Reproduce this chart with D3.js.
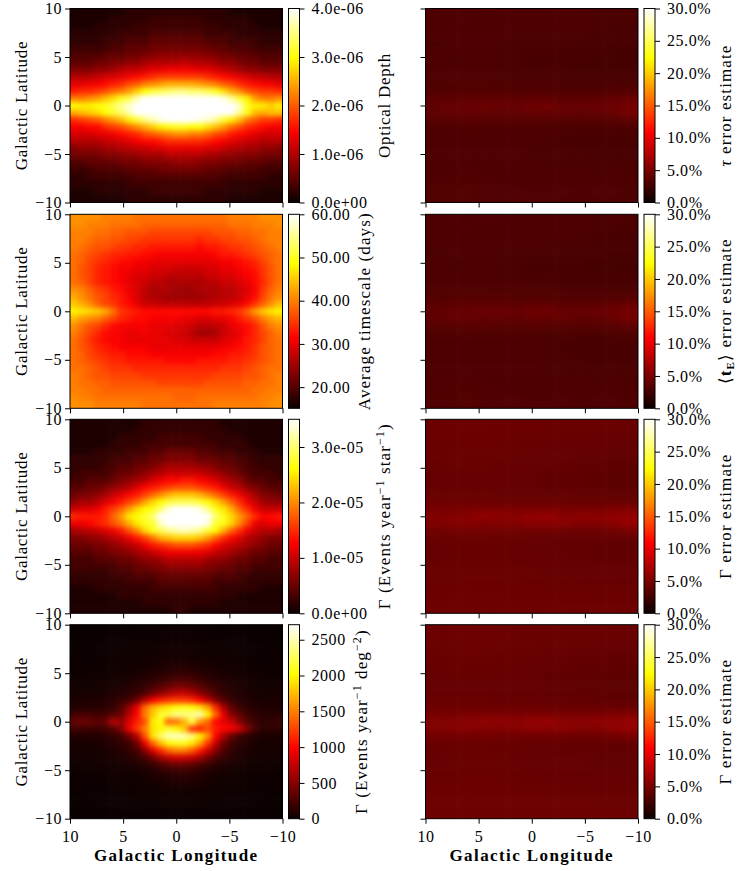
<!DOCTYPE html>
<html>
<head>
<meta charset="utf-8">
<script src="https://cdn.jsdelivr.net/npm/d3@7"></script>
<style>
  html, body { margin: 0; padding: 0; background: #fff; }
  text { font-family: "Liberation Serif", serif; fill: #000; }
  .tick text { font-size: 16px; letter-spacing: 0.55px; }
  .lab { font-size: 17px; letter-spacing: 0.7px; }
  .lab.wide { letter-spacing: 1.1px; }
  .blab { font-size: 17px; font-weight: bold; letter-spacing: 1.4px; }
</style>
</head>
<body>
<div id="chart"></div>
<script>
// values, rows run from b=+10 down to b=-10, columns from l=+10 to l=-10

// optical depth, units of 1e-7
const opticalDepth = [
[1,1,1,1,1,1,1,2,2,2,2,2,2,2,2,2,2,2,2,2,1,1,1,1,1,1,1],
[1,1,1,1,1,2,2,2,2,2,3,3,3,3,3,3,3,2,2,2,2,2,2,1,1,1,1],
[1,1,1,2,2,2,2,2,3,3,3,3,3,3,3,3,3,3,3,2,2,2,2,2,1,1,1],
[2,2,2,2,2,2,3,3,3,3,4,4,4,4,4,4,4,3,3,3,3,2,2,2,2,2,2],
[2,2,2,2,3,3,3,4,4,4,5,5,5,5,5,5,5,4,4,4,3,3,3,3,2,2,2],
[3,3,3,3,3,4,4,5,5,5,6,6,6,6,6,6,6,6,5,5,4,4,4,3,3,3,3],
[4,4,4,4,5,5,5,6,6,7,7,8,8,8,8,8,8,7,7,6,6,5,5,5,4,4,4],
[5,5,5,6,6,7,7,8,8,9,10,10,10,10,11,10,10,10,9,8,8,7,6,6,5,5,5],
[7,7,7,8,8,9,10,11,11,12,13,13,14,14,14,14,13,13,12,11,10,9,8,8,7,7,7],
[10,10,10,11,12,12,13,14,15,16,17,18,18,18,18,18,18,17,16,15,14,13,12,11,11,10,10],
[13,13,14,14,15,16,17,19,20,22,23,24,25,25,25,25,24,23,22,20,19,17,16,15,14,14,13],
[16,17,17,18,19,21,22,24,27,30,32,33,34,35,35,34,34,33,31,28,25,23,20,19,18,18,17],
[22,22,23,24,26,28,31,33,37,40,42,44,45,46,46,46,45,44,42,39,36,32,29,24,22,22,23],
[30,29,29,30,31,33,36,38,42,46,50,54,56,57,57,57,56,54,50,46,42,38,31,29,29,27,29],
[25,26,27,28,30,32,34,37,40,44,47,50,51,52,52,52,51,49,46,43,40,36,31,26,25,26,26],
[17,18,19,20,22,24,26,29,32,35,37,39,40,40,40,40,39,38,36,32,29,26,22,20,18,18,17],
[14,14,15,15,17,18,19,21,23,25,27,29,30,31,31,30,30,28,26,24,21,19,17,16,15,14,14],
[12,12,12,13,13,14,15,16,17,19,20,21,22,23,23,22,22,21,19,18,16,15,14,13,12,12,12],
[10,10,10,10,11,11,12,13,14,15,15,16,17,17,17,17,17,16,15,14,13,12,11,11,10,10,10],
[7,8,8,8,9,9,10,10,11,11,12,12,13,13,13,13,13,12,12,11,10,10,9,9,8,8,7],
[6,6,6,6,7,7,7,8,8,9,9,9,10,10,10,10,10,9,9,8,8,7,7,7,6,6,6],
[4,4,5,5,5,5,6,6,6,7,7,7,7,8,8,8,7,7,7,6,6,6,5,5,5,4,4],
[3,3,3,4,4,4,4,5,5,5,5,6,6,6,6,6,6,5,5,5,4,4,4,4,3,3,3],
[2,2,3,3,3,3,3,3,4,4,4,4,4,4,4,4,4,4,4,3,3,3,3,3,3,2,2],
[2,2,2,2,2,2,2,3,3,3,3,3,3,3,3,3,3,3,3,3,2,2,2,2,2,2,2],
[1,1,1,2,2,2,2,2,2,2,3,3,3,3,3,3,3,2,2,2,2,2,2,2,1,1,1],
[1,1,1,1,1,1,1,2,2,2,2,2,2,2,2,2,2,2,2,2,1,1,1,1,1,1,1]
];

// average timescale, days
const timescale = [
[41,41,41,41,40,40,40,40,39,39,39,39,39,39,39,39,39,39,39,39,40,40,40,40,41,41,41],
[41,41,40,40,40,39,39,39,39,38,38,38,38,38,38,38,38,38,38,38,39,39,39,40,40,40,41],
[40,40,40,39,39,38,38,37,37,37,36,36,36,36,36,36,36,36,37,37,37,38,38,39,39,40,40],
[40,40,39,38,38,37,37,36,36,35,35,35,35,35,35,35,34,35,35,36,36,37,37,38,39,40,40],
[40,39,38,37,37,36,35,35,34,34,33,33,33,33,33,33,32,33,33,34,35,35,36,37,38,39,40],
[39,38,37,36,35,34,34,33,33,32,32,31,31,31,31,31,31,31,32,33,33,34,35,36,37,38,39],
[39,38,36,35,34,33,32,32,31,31,30,30,30,30,30,30,30,30,30,31,31,32,33,34,36,38,39],
[39,37,36,34,33,32,31,31,30,30,29,29,29,28,28,28,28,29,29,30,30,31,32,33,35,37,39],
[39,37,36,34,33,32,31,30,29,29,28,28,27,27,27,27,27,28,28,29,29,30,31,32,35,37,39],
[39,38,36,34,33,32,31,30,29,28,27,27,26,26,26,26,26,27,27,28,28,29,30,32,34,37,39],
[41,40,38,36,35,33,32,30,29,27,26,26,26,25,25,25,26,26,26,27,27,28,29,31,35,38,40],
[43,41,39,37,36,34,33,31,29,27,26,26,25,25,25,25,25,26,26,27,27,28,30,32,36,39,41],
[45,43,41,38,36,35,33,32,30,28,28,27,27,27,27,27,27,27,28,28,29,30,32,35,38,41,44],
[48,47,46,45,43,39,35,34,33,32,32,32,32,32,32,32,32,32,33,33,34,35,38,42,45,47,48],
[44,42,41,40,38,36,34,33,32,32,31,31,31,31,30,30,29,29,30,30,31,33,35,37,40,42,44],
[41,39,37,36,34,32,31,31,31,31,30,30,30,29,29,28,27,27,27,28,30,31,32,34,37,40,41],
[40,38,36,34,32,31,31,30,30,31,30,30,29,29,28,27,25,25,26,28,29,30,32,34,36,38,40],
[39,37,35,33,32,31,31,30,30,30,30,30,30,29,29,28,28,28,28,29,30,31,33,34,36,38,39],
[39,37,36,34,33,32,31,31,31,31,30,30,30,30,30,30,30,30,30,31,31,32,33,35,37,38,39],
[39,38,36,35,34,33,33,32,32,32,31,31,31,31,31,31,31,31,32,32,33,33,34,35,37,38,39],
[39,38,37,36,35,34,34,33,33,33,33,33,32,32,32,32,33,33,33,33,34,34,35,36,37,38,39],
[39,39,38,37,36,35,35,35,34,34,34,34,34,34,34,34,34,34,34,35,35,35,36,37,38,39,39],
[40,39,38,37,37,36,36,36,36,35,35,35,35,35,35,35,35,35,36,36,36,36,37,37,38,39,40],
[40,39,39,38,38,37,37,37,37,37,37,36,36,36,36,36,36,37,37,37,37,37,38,38,39,39,40],
[40,40,39,39,38,38,38,38,38,38,38,38,38,38,38,38,38,38,38,38,38,38,38,39,39,40,40],
[41,40,40,39,39,39,39,39,39,39,39,39,39,38,38,38,39,39,39,39,39,39,39,39,40,40,41],
[41,41,41,40,40,40,40,40,40,39,39,39,39,39,39,39,39,39,40,40,40,40,40,40,40,41,41]
];

// event rate per star, units of 1e-6
const ratePerStar = [
[1,1,1,1,1,1,1,1,1,2,2,2,2,2,2,2,2,2,2,1,1,1,1,1,1,1,1],
[1,1,1,1,1,1,1,1,2,2,2,2,2,2,2,2,2,2,2,2,1,1,1,1,1,1,1],
[1,1,1,1,1,1,2,2,2,2,2,3,3,3,3,3,3,2,2,2,2,2,1,1,1,1,1],
[1,1,1,1,1,2,2,2,2,3,3,3,3,3,3,3,3,3,3,2,2,2,2,1,1,1,1],
[1,1,1,2,2,2,2,3,3,3,4,4,5,5,5,5,4,4,3,3,3,2,2,2,1,1,1],
[2,2,2,2,2,3,3,3,4,4,5,5,6,6,6,6,5,5,5,4,4,3,3,2,2,2,2],
[2,2,2,2,3,3,4,4,5,5,6,7,8,8,8,8,7,7,6,5,5,4,3,3,2,2,2],
[2,3,3,3,3,4,5,5,6,7,8,9,10,10,10,10,10,9,8,7,6,5,4,3,3,3,2],
[3,3,4,4,4,5,6,7,8,9,11,12,13,13,14,14,13,12,11,9,8,7,5,4,4,3,3],
[4,4,5,5,6,7,8,9,11,13,14,15,16,17,17,17,16,15,14,12,10,9,7,6,5,4,4],
[5,6,6,7,8,10,11,13,14,16,18,20,22,23,23,23,22,20,18,16,14,12,10,8,6,6,5],
[7,8,8,9,11,12,14,16,18,21,24,26,28,29,29,29,28,26,24,21,18,15,12,10,8,7,7],
[10,11,11,12,14,16,18,21,24,26,27,30,34,40,41,40,34,31,27,25,22,18,15,12,10,10,10],
[15,14,14,14,15,18,21,25,26,28,30,36,44,54,55,54,44,38,30,27,24,21,18,15,13,13,14],
[12,12,13,14,15,17,19,22,25,27,28,33,38,48,48,47,38,34,28,27,24,20,16,12,11,12,12],
[8,9,9,10,11,12,14,17,20,24,27,29,31,32,33,32,31,28,26,22,18,15,12,10,9,9,8],
[6,6,7,7,8,9,10,12,14,16,19,22,23,24,24,24,23,21,18,15,13,11,9,8,7,6,6],
[5,5,5,6,6,7,8,9,10,12,14,15,16,17,17,17,16,15,13,11,10,9,8,7,6,5,5],
[4,4,4,5,5,6,6,7,8,9,10,11,12,12,12,12,12,11,10,9,8,7,6,5,5,4,4],
[3,3,3,4,4,4,5,5,6,7,7,8,9,9,9,9,9,8,7,7,6,5,5,4,4,3,3],
[3,3,3,3,3,3,4,4,5,5,6,6,7,7,7,7,7,6,6,5,5,4,4,3,3,3,3],
[2,2,2,2,2,3,3,3,4,4,4,5,5,5,5,5,5,5,4,4,4,3,3,2,2,2,2],
[2,2,2,2,2,2,2,3,3,3,3,4,4,4,4,4,4,4,3,3,3,3,2,2,2,2,2],
[1,1,1,2,2,2,2,2,2,2,3,3,3,3,3,3,3,3,3,2,2,2,2,2,1,1,1],
[1,1,1,1,1,1,2,2,2,2,2,2,2,2,2,2,2,2,2,2,2,1,1,1,1,1,1],
[1,1,1,1,1,1,1,1,1,2,2,2,2,2,2,2,2,2,2,1,1,1,1,1,1,1,1],
[1,1,1,1,1,1,1,1,1,1,1,1,1,2,2,1,1,1,1,1,1,1,1,1,1,1,1]
];

// event rate per square degree, units of 10 events
const ratePerDeg = [
[0,0,0,0,0,0,0,0,0,1,1,1,1,1,1,1,1,1,0,0,0,0,0,0,0,0,0],
[0,0,0,0,0,0,0,1,1,1,1,1,1,1,1,1,1,1,1,1,0,0,0,0,0,0,0],
[0,0,0,0,1,1,1,1,1,1,1,2,2,2,2,2,2,1,1,1,1,1,1,0,0,0,0],
[0,0,0,1,1,1,1,1,2,2,2,2,3,3,3,3,2,2,2,1,1,1,1,1,0,0,0],
[1,1,1,1,1,1,2,2,2,3,3,4,4,5,5,4,4,3,3,2,2,1,1,1,1,1,1],
[1,1,1,1,2,2,2,3,3,4,5,6,7,8,8,7,6,5,4,3,3,2,2,1,1,1,1],
[1,1,2,2,2,3,3,4,5,6,8,10,12,14,14,13,11,9,7,5,4,3,2,2,2,1,1],
[2,2,2,3,3,4,5,6,8,10,13,17,20,24,24,22,18,14,11,9,7,5,4,3,2,2,2],
[3,3,3,4,5,6,7,9,12,16,22,29,36,42,42,38,30,23,17,13,9,7,5,4,3,3,3],
[4,4,5,5,6,8,10,13,18,26,40,52,62,72,74,66,52,38,26,17,12,9,7,5,4,4,4],
[7,7,8,9,10,13,17,25,40,70,95,110,118,122,122,116,100,75,50,30,18,12,9,7,6,6,6],
[9,10,10,11,13,16,30,55,90,140,170,185,195,205,210,205,190,165,115,65,35,20,14,10,8,8,8],
[22,26,24,22,24,30,38,70,100,150,180,215,220,240,235,240,250,200,140,90,50,35,22,16,12,11,12],
[35,40,38,30,38,70,55,85,110,130,195,205,140,145,170,220,160,140,100,88,78,50,30,20,14,15,18],
[22,22,20,20,22,30,50,90,120,150,190,200,215,200,180,120,110,130,110,100,95,80,50,25,14,13,14],
[8,9,9,10,12,15,22,40,70,130,190,230,250,255,250,235,200,160,100,65,38,20,13,9,7,7,7],
[5,6,6,7,8,11,15,22,40,90,140,175,200,210,210,195,165,120,75,40,22,14,10,7,5,5,5],
[4,4,5,5,6,8,11,16,26,50,85,115,140,150,150,135,110,80,50,28,17,11,8,6,4,4,4],
[3,3,3,4,5,6,8,11,15,25,40,60,75,80,80,75,60,42,27,17,12,8,6,4,3,3,3],
[2,2,2,3,3,4,5,6,8,11,17,25,32,36,36,32,25,18,12,8,6,5,4,3,2,2,2],
[1,2,2,2,2,3,3,4,5,7,9,12,16,18,18,16,12,9,7,5,4,3,3,2,2,2,1],
[1,1,1,1,2,2,2,3,3,4,6,7,9,10,11,10,8,6,4,3,3,2,2,1,1,1,1],
[1,1,1,1,1,1,2,2,2,3,3,4,5,6,6,5,5,4,3,2,2,2,1,1,1,1,1],
[0,0,1,1,1,1,1,1,2,2,2,3,3,3,3,3,3,2,2,2,1,1,1,1,1,0,0],
[0,0,0,0,1,1,1,1,1,1,1,2,2,2,2,2,2,1,1,1,1,1,1,0,0,0,0],
[0,0,0,0,0,0,1,1,1,1,1,1,1,1,1,1,1,1,1,1,1,0,0,0,0,0,0],
[0,0,0,0,0,0,0,0,0,0,1,1,1,1,1,1,1,0,0,0,0,0,0,0,0,0,0]
];

// error estimates, units of 0.1 percent. tau and tE maps look the same, so do both rate maps
const tauError = [
[30,31,30,31,31,30,30,30,30,30,29,29,29],
[30,30,31,30,30,30,30,30,29,29,29,29,29],
[30,30,30,30,30,30,30,30,29,29,29,28,28],
[30,30,30,30,30,29,29,29,29,29,28,28,28],
[29,30,30,30,30,29,29,29,29,28,28,28,28],
[29,29,30,30,29,29,29,29,28,28,28,27,27],
[29,29,29,29,29,29,28,28,28,28,27,27,27],
[29,29,29,29,29,29,28,28,28,27,27,27,27],
[29,30,29,29,29,29,28,29,28,27,27,27,27],
[30,30,30,30,30,29,29,29,28,28,28,28,28],
[30,31,31,31,30,30,30,30,29,29,29,29,29],
[32,32,33,33,33,32,32,32,31,31,31,32,33],
[36,37,38,38,38,37,38,38,36,37,37,39,42],
[38,40,41,43,42,41,44,45,40,41,42,44,47],
[38,40,40,39,39,39,41,40,41,38,39,42,46],
[34,34,35,35,34,34,34,34,33,33,33,35,38],
[31,31,32,31,31,31,30,30,30,30,30,30,31],
[30,30,30,30,30,30,29,29,29,28,28,28,29],
[30,30,30,30,30,29,29,29,28,28,28,28,28],
[30,30,30,30,30,29,29,29,29,28,28,28,28],
[30,30,30,30,30,30,29,29,29,29,28,28,28],
[30,30,30,30,30,30,30,29,29,29,29,29,29],
[30,30,31,30,30,30,30,30,29,29,29,29,29],
[31,31,31,31,30,30,30,30,30,30,29,29,30],
[31,31,32,31,31,30,30,30,30,30,30,30,30],
[31,32,33,31,31,31,30,30,31,30,31,31,30],
[31,31,32,31,31,31,31,31,30,30,30,30,30]
];

const rateError = [
[43,44,44,44,44,43,43,43,43,43,43,43,43],
[43,43,44,44,43,43,43,43,42,42,42,42,42],
[43,43,43,43,43,43,42,42,42,42,41,41,41],
[42,43,43,43,43,42,42,41,41,41,41,40,40],
[42,42,43,43,42,42,41,41,40,40,40,39,39],
[42,42,42,42,42,41,41,40,40,39,39,38,38],
[41,42,42,42,41,41,40,40,39,39,38,38,37],
[41,41,41,41,41,41,40,39,39,38,38,37,37],
[41,41,41,41,41,40,40,39,38,38,37,37,37],
[41,41,41,41,41,40,40,39,39,38,38,37,37],
[42,42,42,42,41,41,41,40,40,39,39,38,38],
[44,44,44,44,44,43,43,43,42,42,42,42,42],
[49,49,50,51,51,50,51,51,50,50,50,52,54],
[53,54,56,59,58,57,61,62,56,57,58,60,62],
[52,54,55,53,54,54,57,56,57,53,54,58,62],
[46,46,47,47,46,46,45,46,44,44,44,46,49],
[42,42,43,43,42,42,41,41,40,40,40,40,41],
[41,42,42,42,42,41,40,40,39,39,39,38,38],
[41,41,42,42,42,41,41,40,40,39,39,38,38],
[41,42,42,42,42,41,41,41,40,40,39,39,39],
[42,42,42,42,42,42,41,41,41,40,40,40,40],
[42,42,43,43,43,42,42,41,41,41,41,41,41],
[43,43,43,43,43,43,42,42,42,41,41,41,41],
[43,43,44,43,43,43,43,43,42,42,42,42,42],
[43,44,44,44,44,43,43,43,43,43,43,43,43],
[44,44,44,44,44,44,44,44,43,43,43,43,43],
[44,44,44,44,44,44,44,44,44,44,44,44,44]
];

const lonTicks = [10, 5, 0, -5, -10];
const latTicks = [-10, -5, 0, 5, 10];
const errTicks = [0, 5, 10, 15, 20, 25, 30];
const minus = s => String(s).replace('-', '\u2212');

// matplotlib "hot"
const hotStops = [0, 0.365, 0.746, 1];
const hotColors = ['#0b0000', '#ff0000', '#ffff00', '#ffffff'];
const hot = d3.scaleLinear().domain(hotStops).range(hotColors).clamp(true);

const rowTops = [8.5, 214.3, 419.3, 624.7];
const panelH = 194;
const panelW = 212.5;
const colXs = [70, 425.5];
const barW = 11;
const barGap = 6;
const bleed = 12; // edge cells run on under the clip, so the blur has no pale rim

const svg = d3.select('#chart').append('svg')
  .attr('width', 747).attr('height', 871)
  .style('display', 'block');

const defs = svg.append('defs');

defs.append('filter').attr('id', 'soften')
  .attr('x', '-5%').attr('y', '-5%').attr('width', '110%').attr('height', '110%')
  .attr('color-interpolation-filters', 'sRGB')
  .append('feGaussianBlur').attr('stdDeviation', 2.4);

defs.append('linearGradient').attr('id', 'hotbar')
  .attr('x1', 0).attr('x2', 0).attr('y1', 1).attr('y2', 0)
  .selectAll('stop').data(hotStops).join('stop')
  .attr('offset', d => d)
  .attr('stop-color', (d, i) => hotColors[i]);

let clipCount = 0;

function drawPanel(opts) {
  const { x0, y0, cells, unit, vmin, vmax, ticks, tickFmt, showY, showX } = opts;

  const x = d3.scaleLinear().domain([10, -10]).range([x0, x0 + panelW]);
  const y = d3.scaleLinear().domain([-10, 10]).range([y0 + panelH, y0]);

  const nCols = cells[0].length;
  const nRows = cells.length;
  const colBand = d3.scaleBand().domain(d3.range(nCols)).range([x0, x0 + panelW]);
  const rowBand = d3.scaleBand().domain(d3.range(nRows)).range([y0, y0 + panelH]);
  const color = v => hot((v * unit - vmin) / (vmax - vmin));

  const id = 'clip' + (clipCount++);
  defs.append('clipPath').attr('id', id)
    .append('rect').attr('x', x0).attr('y', y0).attr('width', panelW).attr('height', panelH);

  const cellG = svg.append('g').attr('clip-path', `url(#${id})`)
    .append('g').attr('filter', 'url(#soften)');

  cellG.selectAll('g').data(cells).join('g')
    .each(function (row, r) {
      d3.select(this).selectAll('rect').data(row).join('rect')
        .attr('x', (d, c) => colBand(c) - (c === 0 ? bleed : 0))
        .attr('y', rowBand(r) - (r === 0 ? bleed : 0))
        .attr('width', (d, c) => colBand.bandwidth() + 0.5 + (c === 0 || c === nCols - 1 ? bleed : 0))
        .attr('height', rowBand.bandwidth() + 0.5 + (r === 0 || r === nRows - 1 ? bleed : 0))
        .attr('fill', d => color(d));
    });

  // axes
  const xAxis = d3.axisBottom(x).tickValues(lonTicks).tickSize(5)
    .tickPadding(7)
    .tickFormat(d => showX ? minus(d) : '');
  svg.append('g').attr('transform', `translate(0,${y0 + panelH})`).call(xAxis)
    .call(g => g.select('.domain').remove());

  const yAxis = d3.axisLeft(y).tickValues(latTicks).tickSize(5)
    .tickPadding(3)
    .tickFormat(d => showY ? minus(d) : '');
  svg.append('g').attr('transform', `translate(${x0},0)`).call(yAxis)
    .call(g => g.select('.domain').remove());

  svg.append('rect').attr('x', x0).attr('y', y0).attr('width', panelW).attr('height', panelH)
    .attr('fill', 'none').attr('stroke', '#000').attr('stroke-width', 1);

  // colorbar
  const bx = x0 + panelW + barGap;
  const cy = d3.scaleLinear().domain([vmin, vmax]).range([y0 + panelH, y0]);
  svg.append('rect').attr('x', bx).attr('y', y0).attr('width', barW).attr('height', panelH)
    .attr('fill', 'url(#hotbar)').attr('stroke', '#000').attr('stroke-width', 1);
  const cAxis = d3.axisRight(cy).tickValues(ticks).tickSize(5).tickPadding(7).tickFormat(tickFmt);
  svg.append('g').attr('transform', `translate(${bx + barW},0)`).call(cAxis)
    .call(g => g.select('.domain').remove());
  svg.selectAll('.tick text').attr('font-size', null).attr('font-family', null);
}

// vertical label, parts = [text, 'sup' | 'sub' | 'it' | 'b' | undefined]
function vLabel(px, py, parts, cls) {
  const t = svg.append('text').attr('class', cls || 'lab')
    .attr('transform', `translate(${px},${py}) rotate(-90)`)
    .attr('text-anchor', 'middle');
  let back = 0;
  parts.forEach(p => {
    const s = t.append('tspan').text(p[0]);
    let dy = back;
    back = 0;
    if (p[1] === 'sup') { dy += -6; back = 6; s.style('font-size', '12px'); }
    if (p[1] === 'sub') { dy += 3; back = -3; s.style('font-size', '11px').style('font-weight', 'bold'); }
    if (p[1] === 'it') s.style('font-style', 'italic');
    if (p[1] === 'b') s.style('font-weight', 'bold');
    if (dy) s.attr('dy', dy);
  });
}

const leftPanels = [
  { cells: opticalDepth, unit: 1e-7, vmin: 0, vmax: 4e-6,
    ticks: [0, 1e-6, 2e-6, 3e-6, 4e-6], tickFmt: d => d === 0 ? '0.0e+00' : d3.format('.1f')(d * 1e6) + 'e-06' },
  { cells: timescale, unit: 1, vmin: 15.1, vmax: 60,
    ticks: [20, 30, 40, 50, 60], tickFmt: d => d3.format('.2f')(d) },
  { cells: ratePerStar, unit: 1e-6, vmin: 0, vmax: 3.5e-5,
    ticks: [0, 1e-5, 2e-5, 3e-5], tickFmt: d => d === 0 ? '0.0e+00' : d3.format('.1f')(d * 1e5) + 'e-05' },
  { cells: ratePerDeg, unit: 10, vmin: 0, vmax: 2710,
    ticks: [0, 500, 1000, 1500, 2000, 2500], tickFmt: d => String(d) }
];
const rightCells = [tauError, tauError, rateError, rateError];

rowTops.forEach((y0, i) => {
  drawPanel(Object.assign({ x0: colXs[0], y0, showY: true, showX: i === 3 }, leftPanels[i]));
  drawPanel({
    x0: colXs[1], y0, showY: false, showX: i === 3,
    cells: rightCells[i], unit: 0.1, vmin: 0, vmax: 30,
    ticks: errTicks, tickFmt: d => d3.format('.1f')(d) + '%'
  });
  vLabel(27, y0 + panelH / 2, [['Galactic Latitude']]);
});

vLabel(390, rowTops[0] + panelH / 2, [['Optical Depth']]);
vLabel(370, rowTops[1] + panelH / 2, [['Average timescale (days)']], 'lab wide');
vLabel(390, rowTops[2] + panelH / 2, [['\u0393 (Events year'], ['\u22121', 'sup'], [' star'], ['\u22121', 'sup'], [')']], 'lab wide');
vLabel(367, rowTops[3] + panelH / 2, [['\u0393 (Events year'], ['\u22121', 'sup'], [' deg'], ['\u22122', 'sup'], [')']], 'lab wide');

vLabel(731, rowTops[0] + panelH / 2, [['\u03c4', 'it'], [' error estimate']], 'lab wide');
vLabel(731, rowTops[1] + panelH / 2, [['\u27e8'], ['t', 'b'], ['E', 'sub'], ['\u27e9 error estimate']], 'lab wide');
vLabel(731, rowTops[2] + panelH / 2, [['\u0393 error estimate']], 'lab wide');
vLabel(731, rowTops[3] + panelH / 2, [['\u0393 error estimate']], 'lab wide');

svg.append('text').attr('class', 'blab').attr('text-anchor', 'middle')
  .attr('x', colXs[0] + panelW / 2).attr('y', 861).text('Galactic Longitude');
svg.append('text').attr('class', 'blab').attr('text-anchor', 'middle')
  .attr('x', colXs[1] + panelW / 2).attr('y', 861).text('Galactic Longitude');
</script>
</body>
</html>
